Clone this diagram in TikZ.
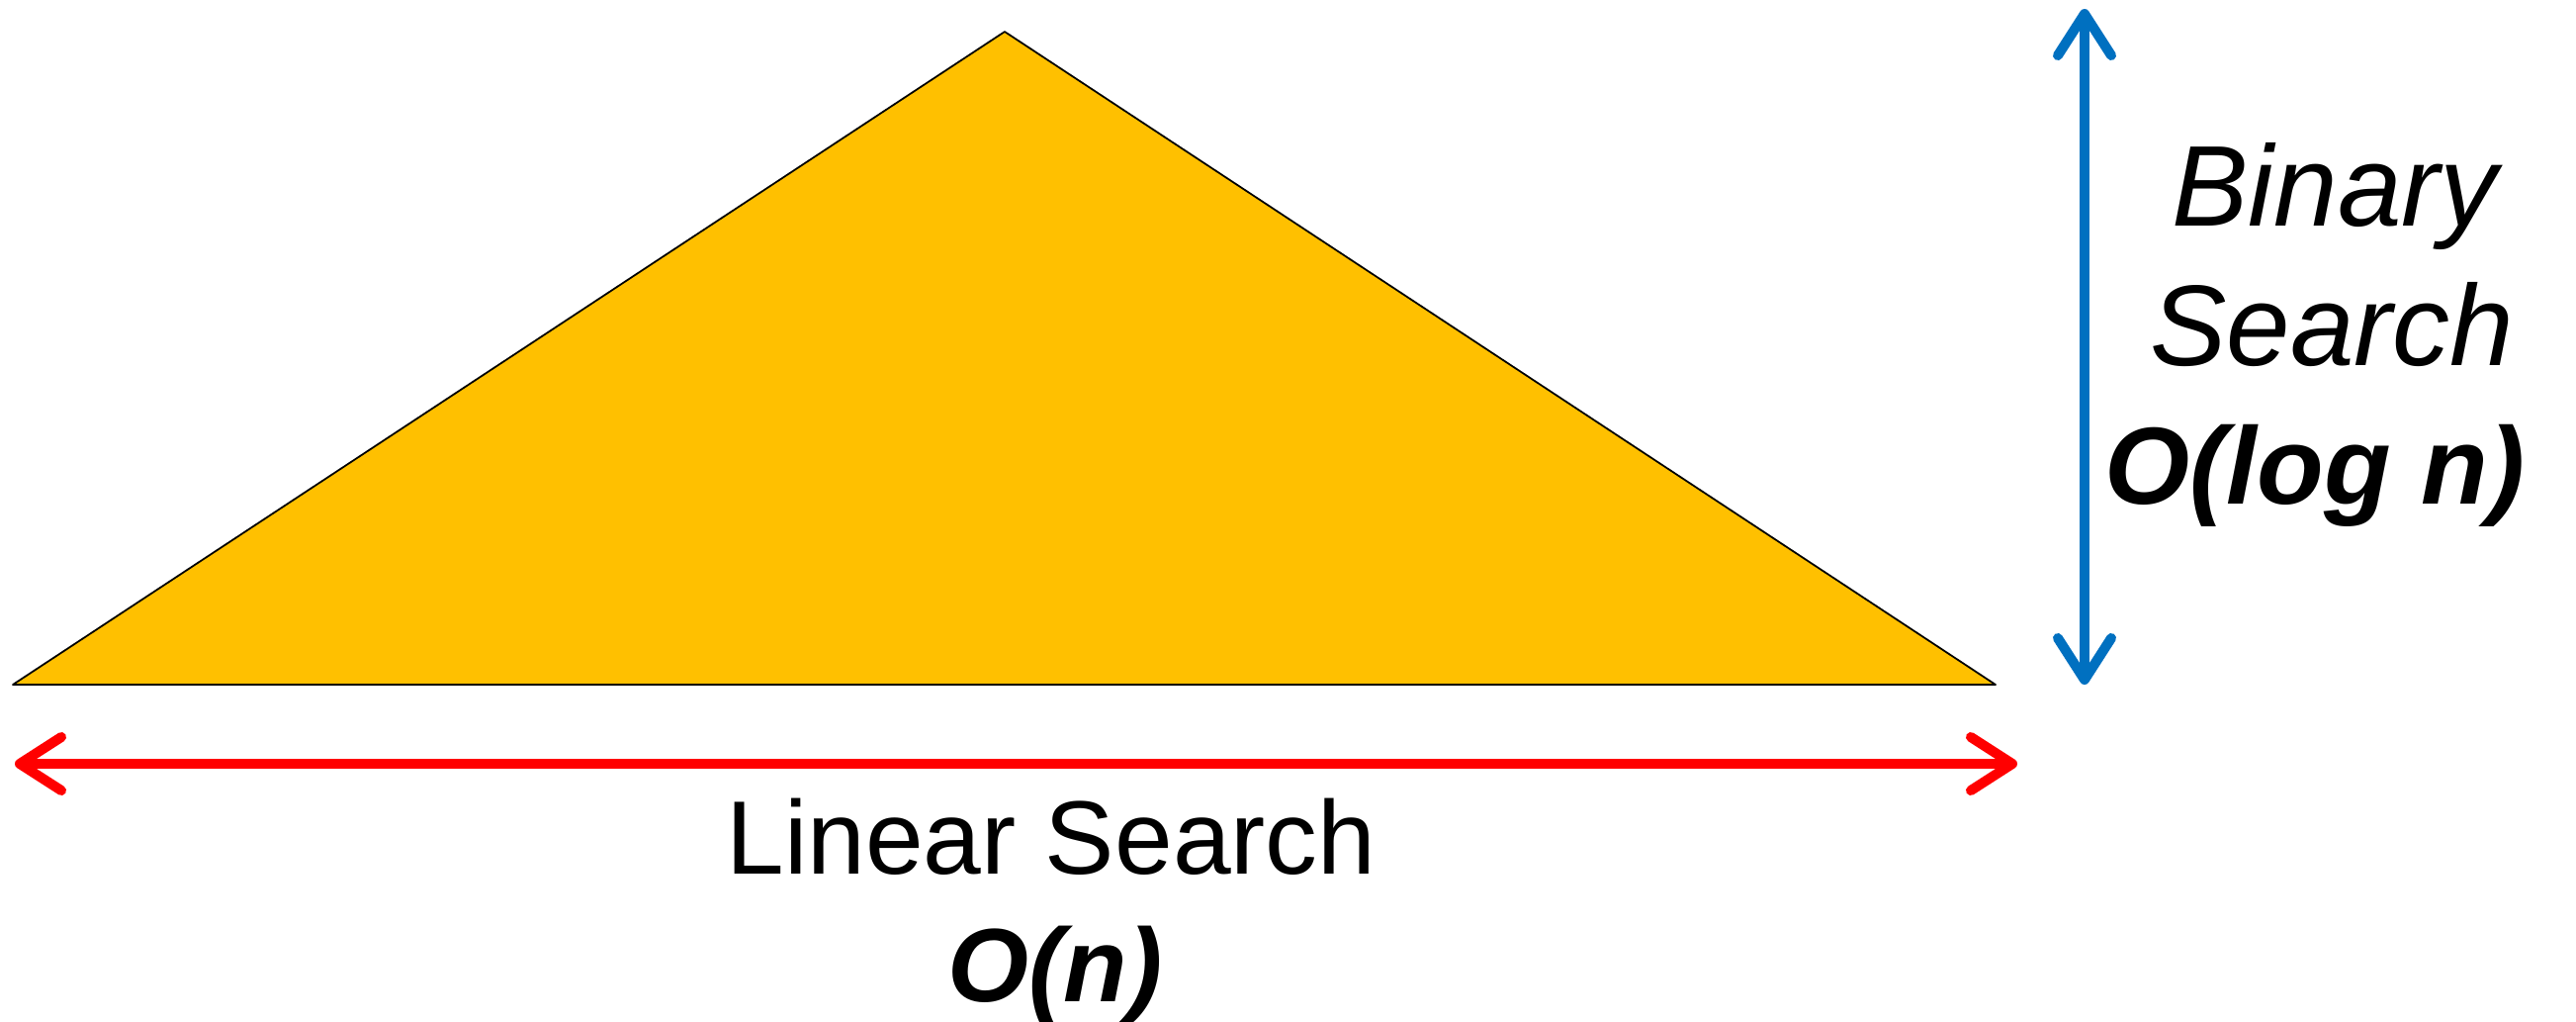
\documentclass[tikz,border=0pt]{standalone}
\usepackage{fontspec}
\setmainfont{Liberation Sans}
\usetikzlibrary{arrows.meta}
\definecolor{trifill}{HTML}{FFC000}
\definecolor{bluearr}{HTML}{0070C0}
\definecolor{redarr}{HTML}{FF0000}
\begin{document}
\begin{tikzpicture}[x=0.01cm,y=-0.01cm,
  dimarrow/.style={line width=0.1cm, line cap=round,
    {Straight Barb[length=0.42cm,width=0.54cm,round]}-{Straight Barb[length=0.42cm,width=0.54cm,round]}},
  lbl/.style={anchor=base, inner sep=0pt},
  bigit/.style={font=\fontsize{33}{40}\selectfont\itshape},
  bigbi/.style={font=\fontsize{31.5}{38}\selectfont\bfseries\itshape},
  midrm/.style={font=\fontsize{30}{36}\selectfont},
  midbi/.style={font=\fontsize{30}{36}\selectfont\bfseries\itshape}]
\useasboundingbox (0,0) rectangle (2605,1033);
\coordinate (apex) at (1016,32);
\coordinate (bl) at (13,692);
\coordinate (br) at (2018,692);
\filldraw[fill=trifill, draw=black, line width=0.5pt, line join=round] (apex) -- (br) -- (bl) -- cycle;
% blue vertical dimension arrow
\coordinate (btop) at (2108,9);
\coordinate (bbot) at (2108,692);
\draw[dimarrow, draw=bluearr] (btop) -- (bbot);
% red horizontal dimension arrow
\coordinate (rleft) at (15,772);
\coordinate (rright) at (2040,772);
\draw[dimarrow, draw=redarr] (rleft) -- (rright);
% labels
\node[lbl, bigit] (binary) at (2361,228) {Binary};
\node[lbl, bigit] (search) at (2358,369) {Search};
\node[lbl, bigbi] (ologn) at (2341,509) {O(log n)};
\node[lbl, midrm] (linear) at (1063,883) {Linear Search};
\node[lbl, midbi] (on) at (1067,1012) {O(n)};
\end{tikzpicture}
\end{document}
